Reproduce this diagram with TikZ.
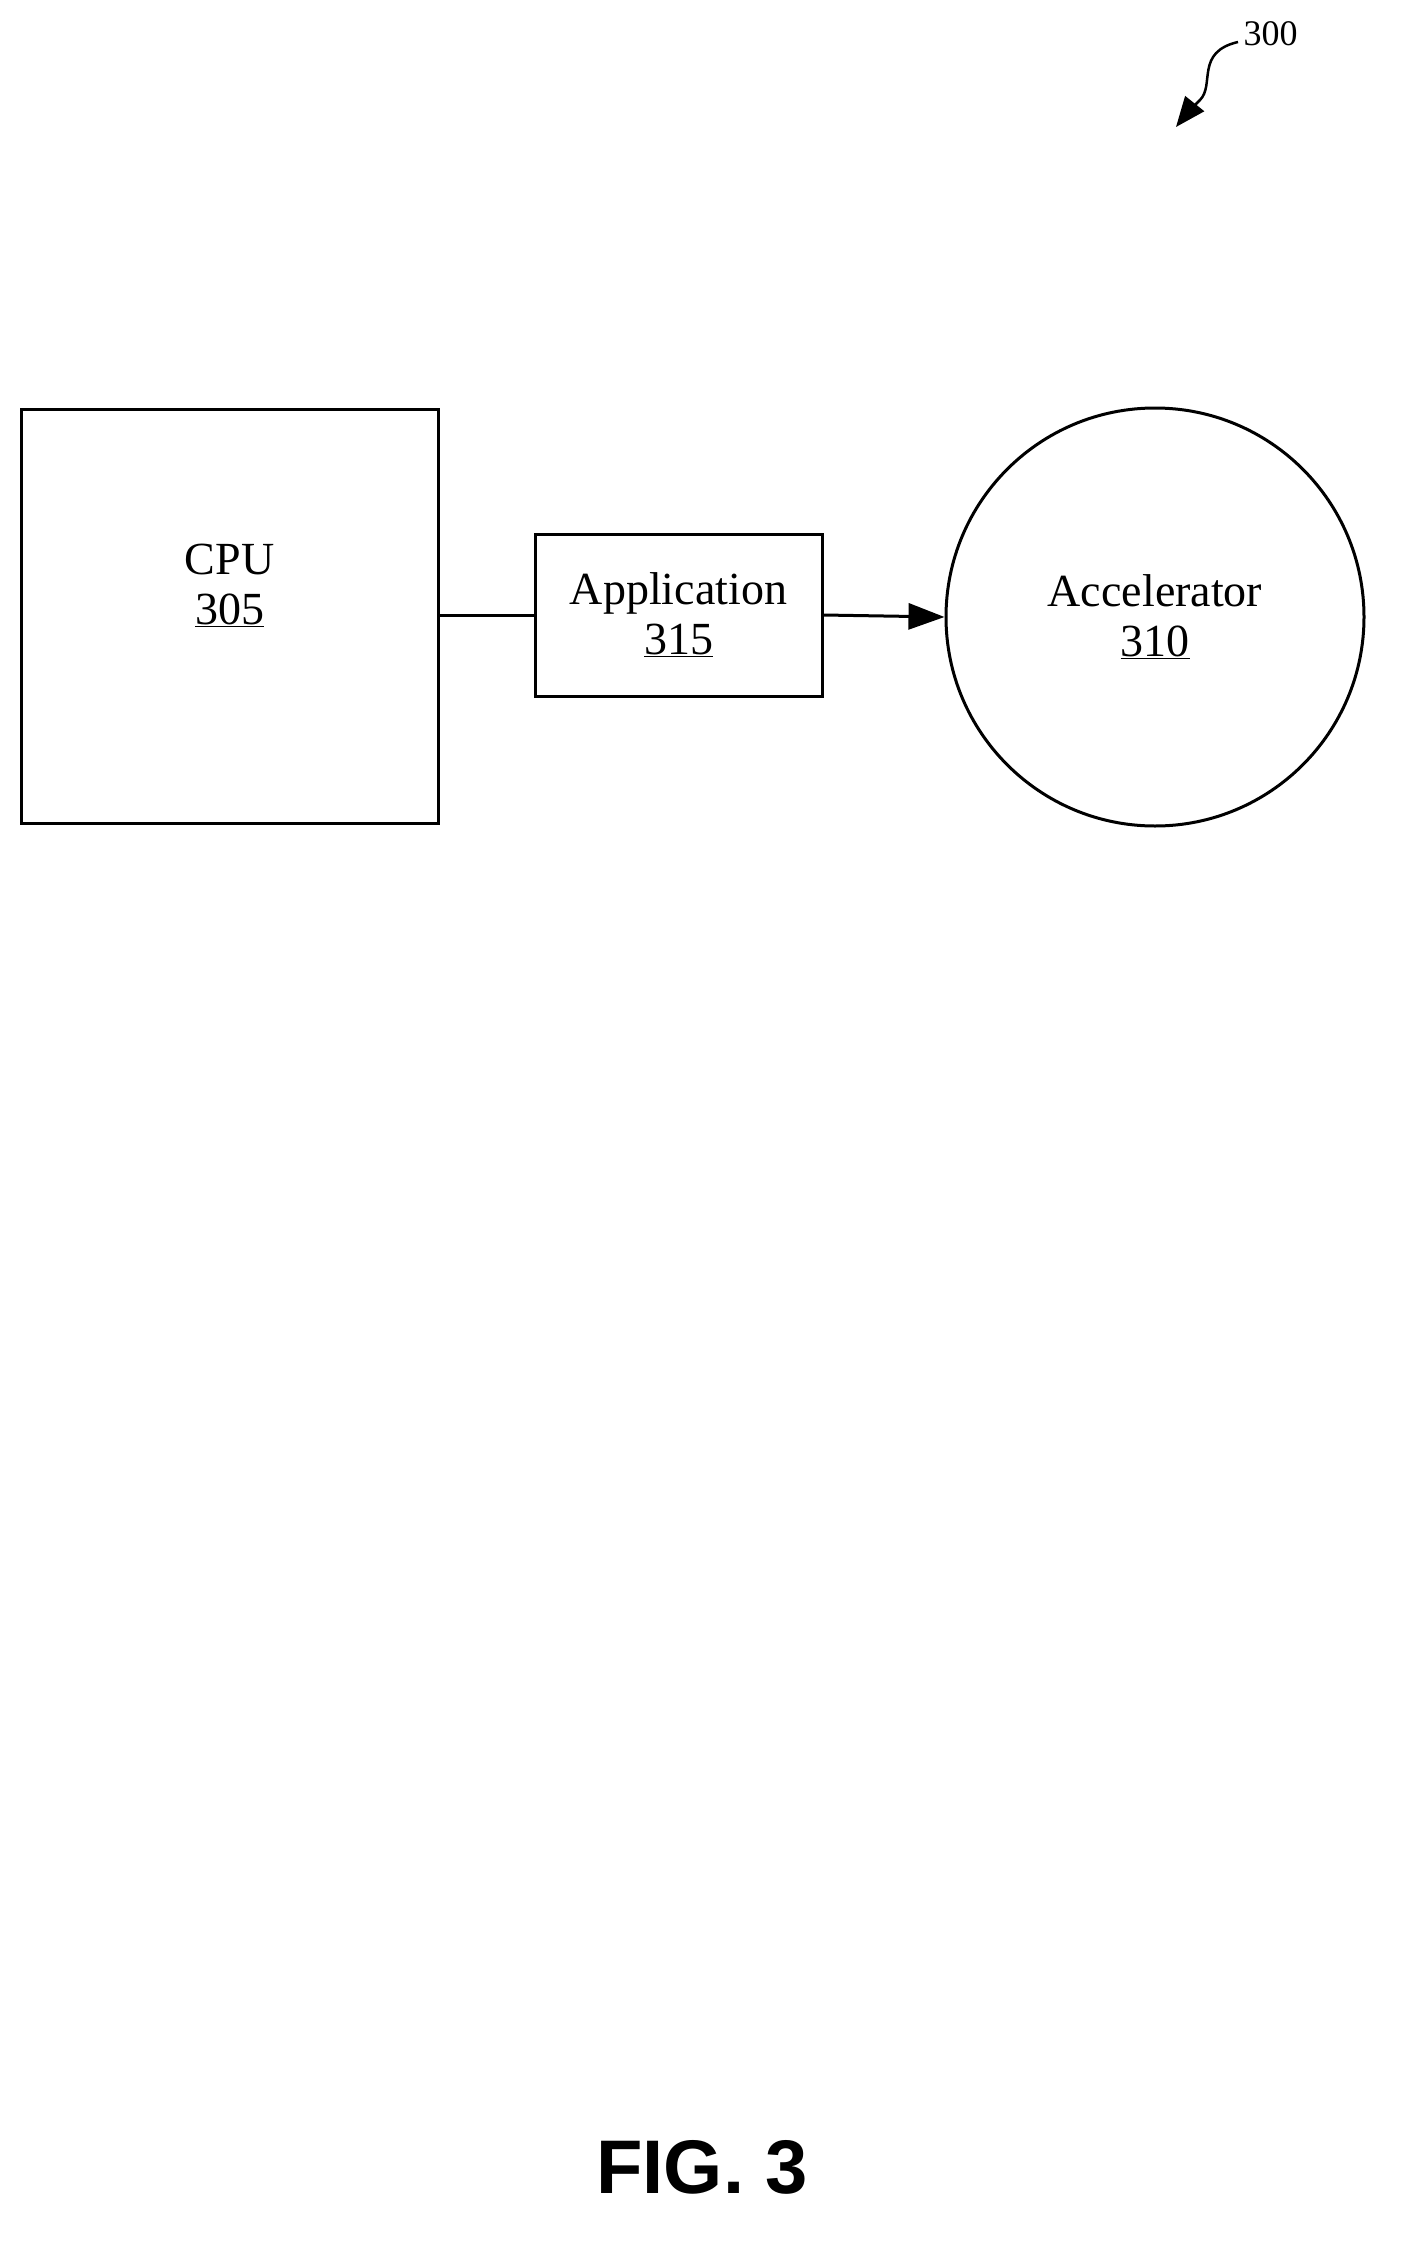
\documentclass[tikz,border=0pt]{standalone}
\usepackage{fontspec}
\setmainfont{Liberation Serif}
\newfontfamily\figfont{Liberation Sans}
\usetikzlibrary{arrows.meta}
\begin{document}
\begin{tikzpicture}[x=1pt,y=-1pt,
  box/.style={draw,line width=3pt,inner sep=0pt},
  lbl/.style={font=\fontsize{46}{50}\selectfont,align=center},
  conn/.style={line width=3pt}]
\useasboundingbox (0,0) rectangle (1412,2258);
\node[box,minimum width=417pt,minimum height=414pt] (cpu) at (229.5,616) {};
\node[lbl] (cput) at (229.5,585) {CPU\\\underline{305}};
\node[box,minimum width=287pt,minimum height=162pt,lbl] (app) at (678.5,615) {Application\\\underline{315}};
\node[box,circle,minimum size=418pt] (acc) at (1155,617) {};
\node[lbl] (acct) at (1155,617) {Accelerator\\\underline{310}};
\draw[conn] (cpu.east|-app.west) -- (app.west);
\draw[conn,-{Triangle[length=36pt,width=26pt]}] (app.east) -- (acc.west);
\node[font=\fontsize{36}{40}\selectfont,anchor=west] (n300) at (1240,34) {300};
\coordinate (s0) at (1238,42);
\draw[line width=2.5pt,-{Triangle[length=30pt,width=24pt]}] (s0) .. controls (1195,52) and (1215,85) .. (1200,100) .. controls (1192,108) and (1188,112) .. (1176,127);
\node[font=\figfont\bfseries\fontsize{76}{80}\selectfont] (fig) at (702,2167) {FIG. 3};
\end{tikzpicture}
\end{document}
